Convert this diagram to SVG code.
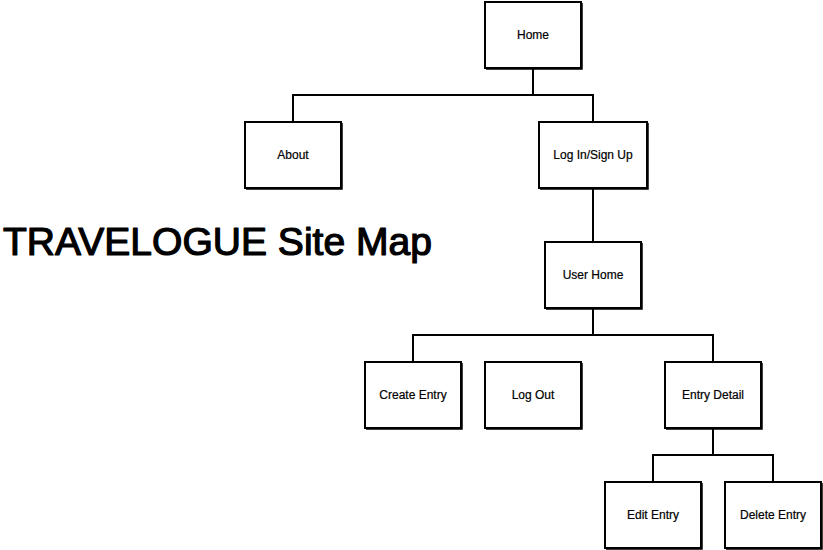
<svg xmlns="http://www.w3.org/2000/svg" width="823" height="550" viewBox="0 0 823 550">
<style>
.box{fill:#fff;stroke:#000;stroke-width:2}
.sh{fill:none;stroke:#000;stroke-width:1.5}
.lbl{font-family:"Liberation Sans",Arial,sans-serif;font-size:12px;fill:#000;stroke:#000;stroke-width:0.2;text-anchor:middle}
.con{fill:none;stroke:#000;stroke-width:2}
.title{font-family:"Liberation Sans",Arial,sans-serif;font-size:38px;fill:#000;stroke:#000;stroke-width:1.2;stroke-linejoin:round}
</style>
<rect width="823" height="550" fill="#fff"/>
<g id="connectors">
<path class="con" d="M533 68V95M293 122V95H593V122"/>
<path class="con" d="M593 188V242"/>
<path class="con" d="M593 308V335M413 362V335H713V362"/>
<path class="con" d="M713 428V455M653 482V455H773V482"/>
</g>
<g id="home"><rect class="box" x="485" y="2" width="96" height="66"/><path class="sh" d="M582 3V69H486"/><text class="lbl" x="533" y="39">Home</text></g>
<g id="about"><rect class="box" x="245" y="122" width="96" height="66"/><path class="sh" d="M342 123V189H246"/><text class="lbl" x="293" y="159">About</text></g>
<g id="login"><rect class="box" x="539" y="122" width="108" height="66"/><path class="sh" d="M648 123V189H540"/><text class="lbl" x="593" y="159">Log In/Sign Up</text></g>
<g id="userhome"><rect class="box" x="545" y="242" width="96" height="66"/><path class="sh" d="M642 243V309H546"/><text class="lbl" x="593" y="279">User Home</text></g>
<g id="create"><rect class="box" x="365" y="362" width="96" height="66"/><path class="sh" d="M462 363V429H366"/><text class="lbl" x="413" y="399">Create Entry</text></g>
<g id="logout"><rect class="box" x="485" y="362" width="96" height="66"/><path class="sh" d="M582 363V429H486"/><text class="lbl" x="533" y="399">Log Out</text></g>
<g id="detail"><rect class="box" x="665" y="362" width="96" height="66"/><path class="sh" d="M762 363V429H666"/><text class="lbl" x="713" y="399">Entry Detail</text></g>
<g id="edit"><rect class="box" x="605" y="482" width="96" height="66"/><path class="sh" d="M702 483V549H606"/><text class="lbl" x="653" y="519">Edit Entry</text></g>
<g id="delete"><rect class="box" x="725" y="482" width="96" height="66"/><path class="sh" d="M822 483V549H726"/><text class="lbl" x="773" y="519">Delete Entry</text></g>
<text class="title" x="3" y="255" textLength="429" lengthAdjust="spacingAndGlyphs">TRAVELOGUE Site Map</text>
</svg>
